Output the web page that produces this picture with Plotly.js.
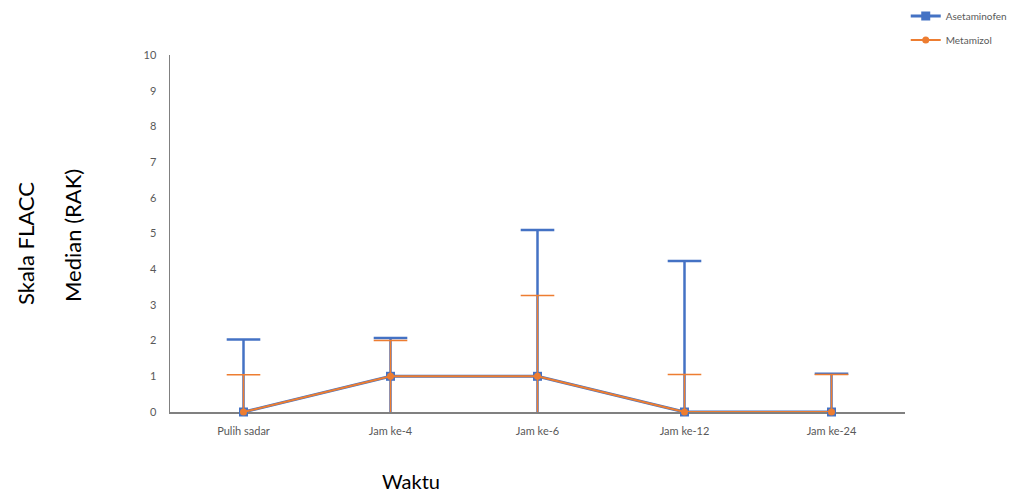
<!DOCTYPE html>
<html>
<head>
<meta charset="utf-8">
<script src="https://cdn.plot.ly/plotly-3.0.1.min.js"></script>
<style>html,body{margin:0;padding:0;background:#fff;}#chart{width:1014px;height:495px;}</style>
</head>
<body>
<div id="chart"></div>
<script>
var categories = ["Pulih sadar", "Jam ke-4", "Jam ke-6", "Jam ke-12", "Jam ke-24"];
var asetMedian = [0, 1, 1, 0, 0];
var asetUpper  = [2.03, 2.07, 5.1, 4.23, 1.07];
var metMedian  = [0, 1, 1, 0, 0];
var metUpper   = [1.04, 2.0, 3.26, 1.05, 1.05];
var yTicks = [0,1,2,3,4,5,6,7,8,9,10];

function diff(a, b) { return a.map(function(v, i){ return v - b[i]; }); }

var blue = "#4472C4", orange = "#ED7D31";
var font = "Lato, 'Open Sans', sans-serif";

var traces = [
  {
    x: categories, y: asetMedian, name: "Asetaminofen", type: "scatter", mode: "lines+markers",
    legendgroup: "a", cliponaxis: false,
    line: {color: blue, width: 3},
    marker: {symbol: "square", size: 9, color: blue},
    error_y: {type: "data", symmetric: false, array: diff(asetUpper, asetMedian), arrayminus: asetMedian,
              color: blue, thickness: 2.5, width: 0}
  },
  {
    x: categories, y: asetUpper, type: "scatter", mode: "markers", showlegend: false,
    hoverinfo: "skip", cliponaxis: false,
    marker: {symbol: "line-ew", size: 24, line: {color: blue, width: 2.5}}
  },
  {
    x: categories, y: metMedian, name: "Metamizol", type: "scatter", mode: "lines+markers",
    legendgroup: "b", cliponaxis: false,
    line: {color: orange, width: 2},
    marker: {symbol: "circle", size: 7, color: orange},
    error_y: {type: "data", symmetric: false, array: diff(metUpper, metMedian), arrayminus: metMedian,
              color: orange, thickness: 1.5, width: 0}
  },
  {
    x: categories, y: metUpper, type: "scatter", mode: "markers", showlegend: false,
    hoverinfo: "skip", cliponaxis: false,
    marker: {symbol: "line-ew", size: 24, line: {color: orange, width: 1.5}}
  }
];

var layout = {
  width: 1014, height: 495,
  margin: {l: 170, r: 109, t: 55, b: 83, autoexpand: false},
  paper_bgcolor: "#fff", plot_bgcolor: "#fff",
  font: {family: font, size: 10, color: "#595959"},
  showlegend: true,
  legend: {x: 1.001, y: 1.15, xanchor: "left", yanchor: "top", font: {size: 10, color: "#595959"},
           traceorder: "grouped", tracegroupgap: 5, bgcolor: "rgba(0,0,0,0)"},
  xaxis: {
    type: "category", range: [-0.5, 4.5], showgrid: false, zeroline: false,
    showline: true, linecolor: "#808080", linewidth: 1.5, layer: "below traces",
    ticks: "", ticklabelstandoff: 8, tickfont: {size: 11, color: "#595959"}
  },
  yaxis: {
    range: [0, 10], tickvals: yTicks, showgrid: false, zeroline: false,
    showline: true, linecolor: "#808080", linewidth: 1.5, layer: "below traces",
    ticks: "", ticklabelstandoff: 10, tickfont: {size: 11, color: "#595959"}
  },
  annotations: [
    {text: "Skala FLACC", xref: "paper", yref: "paper", x: (25 - 170) / 735, y: (412 - 244) / 357,
     xanchor: "center", yanchor: "middle", textangle: -90, showarrow: false,
     font: {family: font, size: 22, color: "#000"}},
    {text: "Median (RAK)", xref: "paper", yref: "paper", x: (72 - 170) / 735, y: (412 - 236) / 357,
     xanchor: "center", yanchor: "middle", textangle: -90, showarrow: false,
     font: {family: font, size: 22, color: "#000"}},
    {text: "Waktu", xref: "paper", yref: "paper", x: (411 - 170) / 735, y: (412 - 481) / 357,
     xanchor: "center", yanchor: "middle", showarrow: false,
     font: {family: font, size: 20, color: "#000"}}
  ]
};

Plotly.newPlot("chart", traces, layout, {displayModeBar: false, staticPlot: true});
</script>
</body>
</html>
